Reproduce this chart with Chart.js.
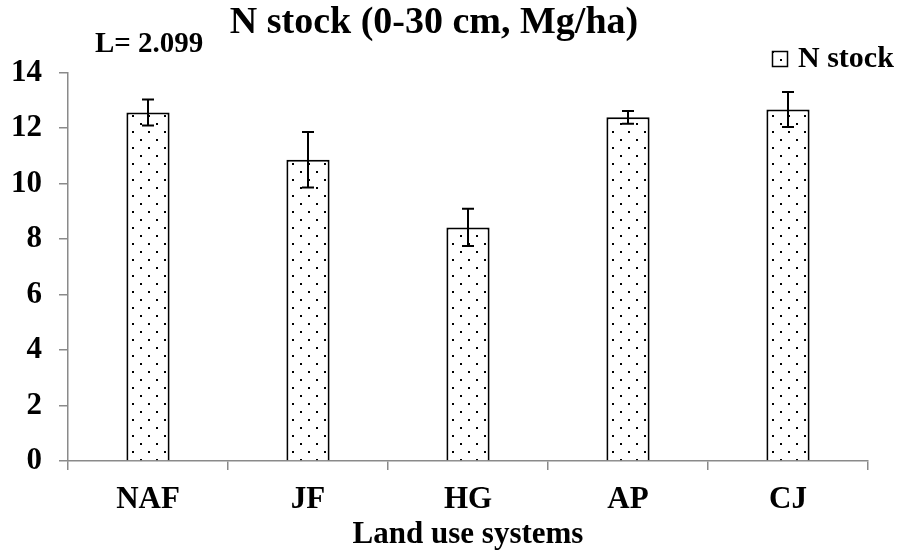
<!DOCTYPE html>
<html>
<head>
<meta charset="utf-8">
<script src="https://cdn.jsdelivr.net/npm/chart.js@4/dist/chart.umd.min.js"></script>
<style>
    html, body { margin:0; padding:0; background:#ffffff; }
    #contenedor { width:902px; height:554px; }
</style>
</head>
<body>
<div id="contenedor"><canvas id="graficoN"></canvas></div>
<script>

// Datos

const categorias = ["NAF", "JF", "HG", "AP", "CJ"];

const stockN = [12.56, 10.86, 8.42, 12.39, 12.67];

const errores = [0.47, 1.0, 0.67, 0.23, 0.63];

const ticksY = [0, 2, 4, 6, 8, 10, 12, 14];

const textoLSD = "L= 2.099";

const nombreSerie = "N stock";

// Patrón de puntos

function crearPatron(){

    const c = document.createElement("canvas");
    c.width = 16;
    c.height = 16;
    const p = c.getContext("2d");
    p.fillStyle = "#ffffff";
    p.fillRect(0, 0, 16, 16);
    p.fillStyle = "#000000";
    p.fillRect(4, 3, 2, 2);
    p.fillRect(12, 11, 2, 2);
    return document.getElementById("graficoN").getContext("2d").createPattern(c, "repeat");

}

const patron = crearPatron();

const fuente = "'Liberation Serif', 'Times New Roman', serif";

const gris = "#8a8a8a";

// Barras de error, texto L y leyenda

const extras = {

    id:"extras",

    afterDatasetsDraw(chart){

        const ctx = chart.ctx;
        const y = chart.scales.y;
        const meta = chart.getDatasetMeta(0);

        ctx.save();
        ctx.strokeStyle = "#000000";
        ctx.lineWidth = 2;

        meta.data.forEach(function(barra, i){

            const arriba = y.getPixelForValue(stockN[i] + errores[i]);
            const abajo = y.getPixelForValue(stockN[i] - errores[i]);

            ctx.beginPath();
            ctx.moveTo(barra.x, arriba);
            ctx.lineTo(barra.x, abajo);
            ctx.moveTo(barra.x - 6, arriba);
            ctx.lineTo(barra.x + 6, arriba);
            ctx.moveTo(barra.x - 6, abajo);
            ctx.lineTo(barra.x + 6, abajo);
            ctx.stroke();

        });

        // Texto L

        ctx.fillStyle = "#000000";
        ctx.font = "bold 29px " + fuente;
        ctx.textAlign = "left";
        ctx.textBaseline = "middle";
        ctx.fillText(textoLSD, 95, 45);

        // Leyenda

        ctx.fillStyle = patron;
        ctx.fillRect(772, 51, 15, 15);
        ctx.lineWidth = 1.5;
        ctx.strokeRect(772.5, 51.5, 15, 15);

        ctx.fillStyle = "#000000";
        ctx.font = "bold 30px " + fuente;
        ctx.fillText(nombreSerie, 798, 59);

        ctx.restore();

    }

};

// Crear gráfico

new Chart(document.getElementById("graficoN"),{

    type:"bar",

    data:{

        labels:categorias,

        datasets:[{

            label:nombreSerie,

            data:stockN,

            backgroundColor:patron,

            borderColor:"#000000",

            borderWidth:2,

            barPercentage:0.54,

            categoryPercentage:0.5

        }]

    },

    options:{

        responsive:true,

        maintainAspectRatio:false,

        animation:false,

        layout:{
            padding:{ top:0, right:34, left:0, bottom:0 }
        },

        plugins:{

            legend:{
                display:false
            },

            tooltip:{
                enabled:false
            },

            title:{

                display:true,

                text:"N stock (0-30 cm, Mg/ha)",

                color:"#000000",

                font:{ family:fuente, size:38, weight:"bold" },

                padding:{ top:0, bottom:27 }

            }

        },

        scales:{

            y:{

                min:0,

                max:14,

                afterBuildTicks:function(escala){
                    escala.ticks = ticksY.map(function(v){ return { value:v }; });
                },

                afterFit:function(escala){
                    escala.width = 68;
                },

                ticks:{
                    color:"#000000",
                    padding:17,
                    font:{ family:fuente, size:31, weight:"bold" }
                },

                grid:{
                    drawOnChartArea:false,
                    tickLength:9,
                    color:gris,
                    lineWidth:1.5
                },

                border:{
                    color:gris,
                    width:1.5
                }

            },

            x:{

                afterFit:function(escala){
                    escala.height = 93;
                },

                ticks:{
                    color:"#000000",
                    padding:11,
                    autoSkip:false,
                    maxRotation:0,
                    font:{ family:fuente, size:31, weight:"bold" }
                },

                grid:{
                    offset:true,
                    drawOnChartArea:false,
                    tickLength:9,
                    color:gris,
                    lineWidth:1.5
                },

                border:{
                    color:gris,
                    width:1.5
                },

                title:{
                    display:true,
                    text:"Land use systems",
                    color:"#000000",
                    padding:{ top:0, bottom:0 },
                    font:{ family:fuente, size:31, weight:"bold" }
                }

            }

        }

    },

    plugins:[extras]

});

</script>
</body>
</html>
